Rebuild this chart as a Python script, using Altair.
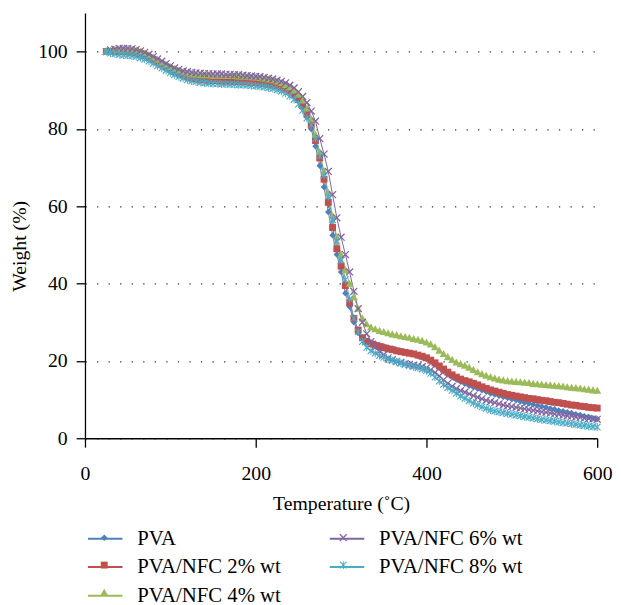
import altair as alt
import pandas as pd

temps = [25, 30, 35, 40, 45, 50, 55, 60, 65, 70, 75, 80, 85, 90, 95, 100, 105, 110, 115, 120,
         125, 130, 135, 140, 145, 150, 155, 160, 165, 170, 175, 180, 185, 190, 195, 200, 205, 210, 215, 220,
         225, 230, 235, 240, 245, 250, 255, 260, 265, 270, 275, 280, 285, 290, 295, 300, 305, 310, 315, 320,
         325, 330, 335, 340, 345, 350, 355, 360, 365, 370, 375, 380, 385, 390, 395, 400, 405, 410, 415, 420,
         425, 430, 435, 440, 445, 450, 455, 460, 465, 470, 475, 480, 485, 490, 495, 500, 505, 510, 515, 520,
         525, 530, 535, 540, 545, 550, 555, 560, 565, 570, 575, 580, 585, 590, 595, 600]

pva = [100.0, 100.1, 100.2, 100.3, 100.3, 100.3, 100.2, 100.0, 99.7, 99.3, 98.8, 98.2, 97.6, 97.0, 96.4, 95.8, 95.3, 94.8, 94.4, 94.0,
       93.7, 93.5, 93.3, 93.2, 93.1, 93.0, 93.0, 92.9, 92.9, 92.9, 92.8, 92.8, 92.7, 92.7, 92.6, 92.5, 92.4, 92.3, 92.1, 91.9,
       91.6, 91.2, 90.6, 89.8, 88.7, 87.2, 85.3, 83.0, 80.0, 75.5, 70.5, 65.0, 58.5, 52.5, 47.5, 43.0, 37.5, 34.0, 30.0, 27.2,
       26.0, 25.2, 24.8, 24.5, 24.1, 23.8, 23.5, 23.2, 22.9, 22.6, 22.3, 22.0, 21.7, 21.3, 20.9, 20.5, 19.8, 19.0, 18.2, 17.3,
       16.5, 15.8, 15.2, 14.6, 14.1, 13.6, 13.2, 12.8, 12.4, 12.0, 11.6, 11.3, 11.0, 10.7, 10.4, 10.1, 9.8, 9.5, 9.2, 9.0,
       8.7, 8.5, 8.2, 8.0, 7.7, 7.5, 7.2, 7.0, 6.7, 6.5, 6.2, 6.0, 5.7, 5.5, 5.2, 5.0]

nfc2 = [100.0, 100.0, 100.1, 100.1, 100.1, 100.0, 99.9, 99.7, 99.4, 99.0, 98.5, 97.9, 97.3, 96.7, 96.0, 95.4, 94.8, 94.3, 93.9, 93.5,
        93.2, 93.0, 92.8, 92.7, 92.6, 92.5, 92.5, 92.4, 92.4, 92.4, 92.3, 92.3, 92.2, 92.2, 92.1, 92.0, 91.9, 91.8, 91.6, 91.4,
        91.2, 90.9, 90.4, 89.7, 88.8, 87.6, 86.0, 83.8, 81.0, 77.0, 72.5, 67.0, 61.0, 54.5, 49.0, 44.5, 39.5, 35.0, 31.0, 28.0,
        26.0, 25.0, 24.4, 24.0, 23.7, 23.4, 23.1, 22.9, 22.6, 22.4, 22.2, 22.0, 21.8, 21.5, 21.2, 20.8, 20.2, 19.5, 18.7, 17.9,
        17.1, 16.4, 15.8, 15.3, 14.9, 14.6, 14.2, 13.8, 13.3, 12.9, 12.5, 12.2, 11.9, 11.6, 11.3, 11.1, 10.9, 10.7, 10.5, 10.3,
        10.2, 10.0, 9.8, 9.7, 9.5, 9.3, 9.2, 9.0, 8.8, 8.6, 8.5, 8.3, 8.2, 8.0, 7.9, 7.8]

nfc4 = [100.0, 100.3, 100.5, 100.6, 100.6, 100.6, 100.5, 100.3, 100.0, 99.6, 99.1, 98.5, 97.9, 97.2, 96.6, 96.0, 95.5, 95.1, 94.7, 94.4,
        94.2, 94.1, 94.0, 93.9, 93.9, 93.8, 93.8, 93.8, 93.7, 93.7, 93.7, 93.6, 93.6, 93.5, 93.4, 93.3, 93.2, 93.0, 92.8, 92.6,
        92.3, 91.9, 91.4, 90.8, 90.0, 88.9, 87.4, 85.3, 82.5, 78.5, 74.0, 69.0, 63.5, 57.5, 52.0, 47.5, 43.5, 40.0, 36.5, 33.5,
        31.0, 29.5, 28.7, 28.2, 27.8, 27.5, 27.2, 26.9, 26.7, 26.4, 26.2, 26.0, 25.7, 25.5, 25.2, 24.8, 24.3, 23.6, 22.7, 21.8,
        21.0, 20.3, 19.6, 19.2, 18.8, 18.3, 17.7, 17.1, 16.6, 16.2, 15.8, 15.5, 15.2, 15.0, 14.8, 14.7, 14.6, 14.5, 14.4, 14.3,
        14.1, 14.0, 13.9, 13.8, 13.7, 13.6, 13.5, 13.4, 13.2, 13.1, 13.0, 12.9, 12.7, 12.6, 12.4, 12.3]

nfc6 = [100.0, 100.4, 100.6, 100.8, 100.8, 100.8, 100.7, 100.5, 100.2, 99.8, 99.3, 98.7, 98.1, 97.5, 96.9, 96.3, 95.8, 95.4, 95.0, 94.8,
        94.6, 94.5, 94.4, 94.3, 94.3, 94.2, 94.2, 94.2, 94.1, 94.1, 94.0, 94.0, 93.9, 93.8, 93.7, 93.6, 93.5, 93.3, 93.1, 92.9,
        92.6, 92.3, 91.9, 91.3, 90.6, 89.6, 88.4, 86.8, 84.6, 82.0, 77.5, 73.5, 69.0, 63.0, 57.0, 52.0, 47.5, 43.0, 38.0, 33.5,
        30.0, 27.0, 25.0, 23.5, 22.5, 21.6, 20.8, 20.3, 19.9, 19.6, 19.3, 19.1, 18.9, 18.7, 18.5, 18.2, 17.7, 17.0, 16.1, 15.1,
        14.2, 13.4, 12.8, 12.3, 11.9, 11.5, 11.0, 10.6, 10.2, 9.8, 9.5, 9.2, 8.9, 8.6, 8.4, 8.2, 8.0, 7.8, 7.6, 7.4,
        7.2, 7.0, 6.8, 6.7, 6.5, 6.3, 6.2, 6.0, 5.8, 5.7, 5.5, 5.4, 5.2, 5.1, 5.0, 4.9]

nfc8 = [100.0, 99.6, 99.4, 99.2, 99.1, 99.0, 98.9, 98.7, 98.4, 98.0, 97.5, 96.9, 96.3, 95.7, 95.1, 94.5, 94.0, 93.5, 93.1, 92.7,
        92.4, 92.2, 92.0, 91.9, 91.8, 91.7, 91.7, 91.6, 91.6, 91.5, 91.5, 91.4, 91.4, 91.3, 91.2, 91.1, 91.0, 90.8, 90.6, 90.4,
        90.1, 89.7, 89.2, 88.5, 87.6, 86.4, 84.8, 82.8, 81.0, 77.5, 73.0, 68.0, 62.5, 56.5, 51.0, 46.0, 41.0, 36.0, 31.0, 27.5,
        25.0, 23.5, 22.6, 22.0, 21.4, 20.9, 20.4, 20.1, 19.8, 19.4, 19.1, 18.8, 18.5, 18.2, 17.9, 17.5, 16.8, 15.8, 14.8, 13.9,
        13.1, 12.4, 11.6, 10.9, 10.3, 9.7, 9.1, 8.6, 8.1, 7.7, 7.3, 7.0, 6.8, 6.6, 6.4, 6.2, 6.0, 5.8, 5.6, 5.4,
        5.2, 5.0, 4.8, 4.7, 4.5, 4.4, 4.2, 4.0, 3.9, 3.7, 3.6, 3.4, 3.3, 3.1, 3.0, 2.9]

names = ["PVA", "PVA/NFC 2% wt", "PVA/NFC 4% wt", "PVA/NFC 6% wt", "PVA/NFC 8% wt"]
colors = ["#4F81BD", "#C0504D", "#9BBB59", "#8064A2", "#4BACC6"]
x_ticks = [0, 200, 400, 600]
y_ticks = [0, 20, 40, 60, 80, 100]

# marker outlines in pixels, normalised for a symbol of size (2R)^2
R = 17.5
SYM = (2 * R) ** 2


def shape_path(subpaths):
    out = []
    for pts in subpaths:
        seg = "M" + "L".join(f"{x / R:.4f},{y / R:.4f}" for x, y in pts) + "Z"
        out.append(seg)
    return "".join(out)


def x_pts(a, e):
    return [(0, -2 * e), (a - e, -a - e), (a + e, -a + e), (2 * e, 0), (a + e, a - e), (a - e, a + e),
            (0, 2 * e), (-a + e, a + e), (-a - e, a - e), (-2 * e, 0), (-a - e, -a + e), (-a + e, -a - e)]


shapes = [
    shape_path([[(0, -3.3), (3.3, 0), (0, 3.3), (-3.3, 0)]]),
    shape_path([[(-3.5, -3.5), (3.5, -3.5), (3.5, 3.5), (-3.5, 3.5)]]),
    shape_path([[(0, -4.0), (4.0, 3.2), (-4.0, 3.2)]]),
    shape_path([x_pts(3.5, 0.45)]),
    shape_path([x_pts(3.3, 0.4), [(-0.5, -4.0), (0.5, -4.0), (0.5, 4.0), (-0.5, 4.0)]]),
]

rows = []
for i, (name, vals) in enumerate(zip(names, [pva, nfc2, nfc4, nfc6, nfc8])):
    for t, w in zip(temps, vals):
        rows.append({"T": t, "W": w, "series": name, "key": name + "#", "idx": i})
df = pd.DataFrame(rows)

keys = [n + "#" for n in names]

FONT = "Liberation Serif, Times New Roman, serif"
LFS = 21
LX, LY = 2, 514
COLPAD = 45
LABEL_W = 148.2  # width of the longest legend label at LFS

common_leg = dict(title=None, orient="none", legendX=LX, legendY=LY, columns=2, symbolSize=SYM,
                  labelFont=FONT, labelFontSize=LFS, labelColor="black", labelOffset=14,
                  rowPadding=-2, padding=0, labelLimit=0)

x_enc = alt.X("T:Q", scale=alt.Scale(domain=[0, 600], nice=False),
              axis=alt.Axis(values=x_ticks, title="Temperature (˚C)", grid=False, format="d",
                            labelFlush=False))
y_enc = alt.Y("W:Q", scale=alt.Scale(domain=[0, 110], nice=False),
              axis=alt.Axis(values=y_ticks, title="Weight (%)", grid=True, format="d",
                            labelFlush=False, titleX=-56, titleY=236))

lines = alt.Chart(df).mark_line(strokeWidth=1).encode(
    x=x_enc, y=y_enc,
    stroke=alt.Stroke("series:N", scale=alt.Scale(domain=names, range=colors),
                      legend=alt.Legend(symbolType="stroke", symbolStrokeWidth=2,
                                        columnPadding=COLPAD, **common_leg)),
    order=alt.Order("T:Q"),
)

pt_leg = alt.Legend(symbolStrokeWidth=0, symbolOpacity=1, labelExpr="''",
                    columnPadding=COLPAD + LABEL_W, **common_leg)
points = alt.Chart(df).mark_point(filled=True, size=SYM, opacity=1, strokeWidth=0).encode(
    x=x_enc, y=y_enc,
    fill=alt.Fill("key:N", scale=alt.Scale(domain=keys, range=colors), legend=pt_leg),
    shape=alt.Shape("key:N", scale=alt.Scale(domain=keys, range=shapes), legend=pt_leg),
    order=alt.Order("idx:Q"),
)

chart = alt.layer(lines, points).properties(
    width=519, height=431,
    autosize=alt.AutoSizeParams(type="none"),
    padding={"left": 78, "top": 1, "right": 16, "bottom": 165},
).configure_view(strokeWidth=0).configure_axis(
    labelFont=FONT, labelFontSize=20, labelColor="black",
    titleFont=FONT, titleFontSize=20, titleFontWeight="normal", titleColor="black",
    domainColor="black", domainWidth=1.3, tickColor="black", tickWidth=1.3, tickSize=9,
    gridColor="#333333", gridWidth=1.3, gridDash=[1.3, 10.4], gridOpacity=1,
).configure_axisX(labelPadding=17, titlePadding=10).configure_axisY(labelPadding=9)

chart.save("out.html", embed_options={"renderer": "svg", "actions": False})
